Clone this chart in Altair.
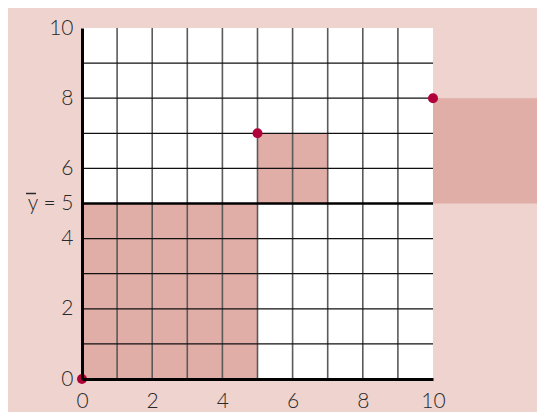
import altair as alt
import pandas as pd

# squares (deviation products)
sq_x = [0, 5, 10]
sq_x2 = [5, 7, 13]
sq_y = [0, 5, 5]
sq_y2 = [5, 7, 8]
# data points
pt_x = [0, 5, 10]
pt_y = [0, 7, 8]
mean_y = 5
grid_vals = list(range(1, 10))
x_label_vals = [0, 2, 4, 6, 8, 10]
y_label_vals = [0, 2, 4, 5, 6, 8, 10]
y_label_text = ["0", "2", "4", "y\u00a0=\u00a05", "6", "8", "10"]

BG = "#efd3cf"
FILL = "#e1ada7"
PT = "#b0003a"
FONT = "Lato"
FS = 21

sq_df = pd.DataFrame({"x": sq_x, "x2": sq_x2, "y": sq_y, "y2": sq_y2})
pt_df = pd.DataFrame({"x": pt_x, "y": pt_y})
vgrid = pd.DataFrame({"g": grid_vals, "lo": 0, "hi": 10})
hgrid = pd.DataFrame({"g": grid_vals, "lo": 0, "hi": 10})
mean_df = pd.DataFrame({"y": [mean_y], "lo": [0], "hi": [10]})

expr = "''"
for v, t in zip(y_label_vals, y_label_text):
    expr = f"datum.value == {v} ? '{t}' : ({expr})"

xscale = alt.Scale(domain=[0, 10], nice=False)
yscale = alt.Scale(domain=[0, 10], nice=False)

xaxis = alt.Axis(values=x_label_vals, grid=False, ticks=False, title=None,
                 domainColor="black", domainWidth=3, labelFont=FONT,
                 labelFontSize=FS, labelFontWeight=300, labelColor="#2a2a2a",
                 labelPadding=11, zindex=1, labelFlush=False)
yaxis = alt.Axis(values=y_label_vals, grid=False, ticks=False, title=None,
                 domainColor="black", domainWidth=3, labelFont=FONT,
                 labelFontSize=FS, labelFontWeight=300, labelColor="#2a2a2a",
                 labelPadding=9, labelExpr=expr, zindex=1, labelFlush=False)

squares = alt.Chart(sq_df).mark_rect(color=FILL, clip=False).encode(
    x=alt.X("x:Q", scale=xscale, axis=xaxis),
    x2="x2:Q",
    y=alt.Y("y:Q", scale=yscale, axis=yaxis),
    y2="y2:Q",
)

vlines = alt.Chart(vgrid).mark_rule(color="#5a5a5a", strokeWidth=1.6).encode(
    x=alt.X("g:Q", scale=xscale),
    y=alt.Y("lo:Q", scale=yscale),
    y2="hi:Q",
)

hlines = alt.Chart(hgrid).mark_rule(color="#111", strokeWidth=1.2).encode(
    y=alt.Y("g:Q", scale=yscale),
    x=alt.X("lo:Q", scale=xscale),
    x2="hi:Q",
)

mean_line = alt.Chart(mean_df).mark_rule(color="black", strokeWidth=2.5).encode(
    y=alt.Y("y:Q", scale=yscale),
    x=alt.X("lo:Q", scale=xscale),
    x2="hi:Q",
)

# overline over the "y" of the mean label
overline = alt.Chart(mean_df).mark_rule(color="#2a2a2a", strokeWidth=1.5, clip=False, yOffset=-10).encode(
    y=alt.Y("y:Q", scale=yscale),
    x=alt.value(-56),
    x2=alt.value(-46),
)

points = alt.Chart(pt_df).mark_circle(color=PT, size=100, opacity=1, clip=False).encode(
    x=alt.X("x:Q", scale=xscale),
    y=alt.Y("y:Q", scale=yscale),
)

chart = alt.layer(squares, vlines, hlines, mean_line, overline, points).properties(
    width=351, height=351,
    background=BG,
    padding={"left": 74, "top": 20, "right": 104, "bottom": 33},
    autosize=alt.AutoSizeParams(type="none"),
).configure_view(stroke=None, fill="white")

chart.save("out.html", embed_options={"renderer": "svg", "actions": False})
